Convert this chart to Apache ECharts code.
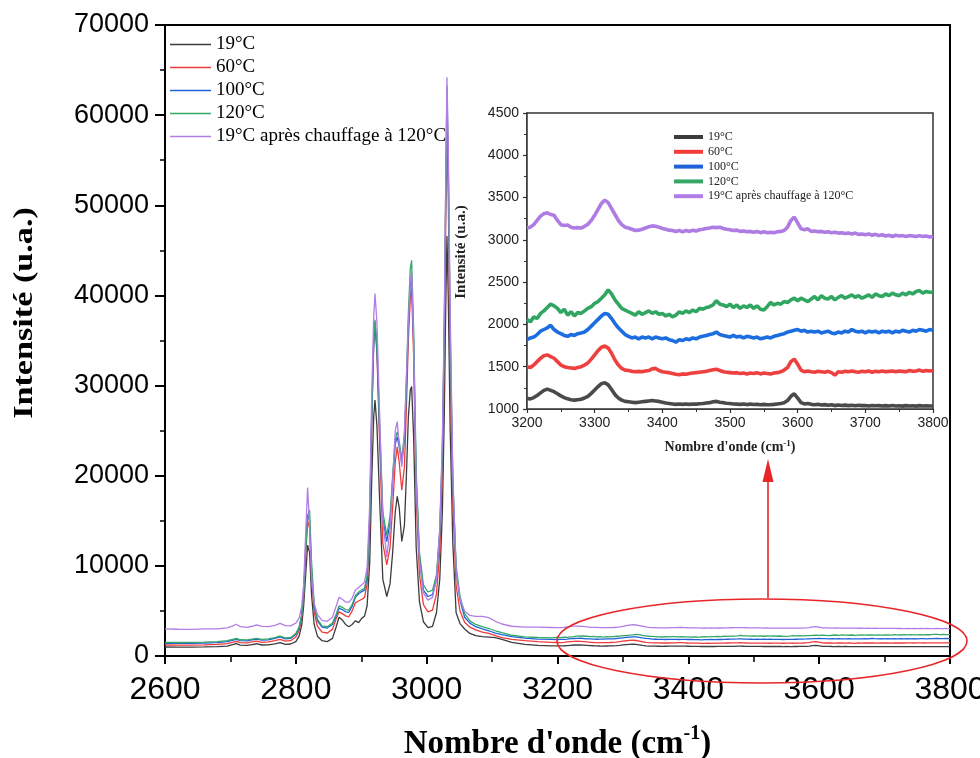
<!DOCTYPE html>
<html>
<head>
<meta charset="utf-8">
<script src="https://cdn.jsdelivr.net/npm/echarts@6/dist/echarts.min.js"></script>
<style>html,body{margin:0;padding:0;background:#fff;}#c{width:980px;height:758px;}</style>
</head>
<body>
<div id="c"></div>
<script>
const seriesNames = ['19°C', '60°C', '100°C', '120°C', '19°C après chauffage à 120°C'];

const mainXTicks = [2600, 2800, 3000, 3200, 3400, 3600, 3800];
const mainYTicks = [0, 10000, 20000, 30000, 40000, 50000, 60000, 70000];
const insetXTicks = [3200, 3300, 3400, 3500, 3600, 3700, 3800];
const insetYTicks = [1000, 1500, 2000, 2500, 3000, 3500, 4000, 4500];

// wavenumbers 2600-3190 (main panel part)
const mainX = [
2600,2620,2640,2660,2680,2695,2703,2709,2715,2725,
2733,2740,2748,2758,2768,2776,2784,2792,2800,2805,
2809,2812,2815,2818,2821,2824,2828,2833,2840,2848,
2856,2862,2866,2871,2876,2881,2886,2891,2896,2901,
2905,2909,2913,2916,2919,2921,2924,2928,2933,2939,
2944,2948,2952,2955,2958,2962,2966,2969,2972,2975,
2977,2980,2984,2989,2995,3002,3009,3015,3020,3024,
3027,3029,3031,3033,3036,3040,3045,3051,3058,3066,
3075,3085,3095,3105,3115,3130,3150,3170,3190];

const k19Main = [
1000,980,990,1010,1040,1100,1250,1380,1200,1170,
1270,1360,1220,1240,1350,1480,1300,1330,1600,2200,
3400,5600,9000,12300,11500,6800,3500,2200,1700,1600,
1950,3300,4300,4000,3500,3250,3500,3900,3700,4200,
4400,5600,10500,19500,26500,28400,25500,17500,8500,6600,
8000,11500,16000,17700,16500,12700,14500,20000,26500,29500,
29900,24500,12000,6000,3800,3150,3300,4800,8500,16000,
27000,38000,46600,40000,25000,12500,4800,3600,3000,2500,
2250,2150,2100,2030,1850,1500,1300,1180,1130];

const r60Main = [
1220,1200,1210,1240,1280,1380,1520,1620,1480,1460,
1560,1640,1520,1560,1700,1850,1650,1700,2100,2800,
4200,6800,11000,15000,14200,8800,4900,3300,2650,2550,
2950,4200,4900,4700,4450,4350,5000,5900,6100,6300,
6500,8000,14500,26000,34500,37000,33500,24000,12500,10100,
12000,16500,21500,23200,21500,18400,21000,27500,35000,39800,
40700,33500,17500,9000,5700,4900,5100,6900,11500,21000,
34000,47000,59000,51000,32000,17000,7800,5000,3750,3200,
2900,2650,2500,2250,2050,1850,1700,1590,1520];

const b100Main = [
1410,1400,1410,1440,1490,1590,1740,1850,1700,1680,
1780,1860,1750,1800,1950,2120,1900,1950,2400,3100,
4500,7200,12000,15700,15000,9500,5500,3900,3200,3100,
3500,4500,5300,5150,4900,4850,5500,6500,6900,7150,
7300,8700,15200,26500,34500,37000,34000,25000,15200,12700,
14800,19500,23500,24300,23200,21400,24000,29500,36500,41200,
42000,35000,19500,10800,7300,6600,6800,8600,13500,22500,
36000,50000,62000,54000,35000,19000,9500,6200,4300,3650,
3250,3000,2800,2550,2380,2150,1980,1880,1840];

const g120Main = [
1520,1500,1510,1550,1600,1700,1850,1960,1800,1780,
1880,1960,1850,1900,2050,2220,2000,2050,2500,3200,
4600,7000,11500,15500,16200,10500,5800,4100,3350,3250,
3650,4700,5550,5400,5150,5100,5700,6700,7100,7350,
7500,8900,15500,27000,35000,37300,34500,26000,16000,13400,
15500,20000,24000,24900,23800,21900,24500,30500,38000,43000,
43900,36500,20500,11500,7900,7100,7300,9000,14000,23000,
37000,51000,63200,55000,36000,19500,10000,6600,4700,3900,
3500,3250,3050,2800,2580,2300,2130,2050,2000];

const p19aMain = [
3000,2970,2960,3000,3020,3120,3320,3520,3250,3180,
3300,3450,3280,3260,3400,3620,3380,3350,3650,4200,
5500,8000,13500,18700,14500,8800,5800,4600,3950,3850,
4300,5600,6500,6300,6000,5950,6400,7300,7600,7900,
8200,9800,17000,29000,37500,40200,37000,27000,15000,11000,
14000,19500,25000,26000,23500,21000,25000,31000,37000,41500,
42600,35000,19000,10500,7000,6200,6500,8500,14000,24000,
38000,52000,64200,57000,38000,20000,9500,6300,5000,4500,
4400,4400,4250,3850,3550,3300,3200,3200,3160];

// wavenumbers 3200-3800 (inset range)
const insetX = [
3200,3205,3210,3215,3220,3225,3230,3235,3240,3245,
3250,3255,3260,3265,3270,3275,3280,3285,3290,3295,
3300,3305,3310,3315,3320,3325,3330,3335,3340,3345,
3350,3355,3360,3365,3370,3375,3380,3385,3390,3395,
3400,3405,3410,3415,3420,3425,3430,3435,3440,3445,
3450,3455,3460,3465,3470,3475,3480,3485,3490,3495,
3500,3505,3510,3515,3520,3525,3530,3535,3540,3545,
3550,3555,3560,3565,3570,3575,3580,3585,3590,3595,
3600,3605,3610,3615,3620,3625,3630,3635,3640,3645,
3650,3655,3660,3665,3670,3675,3680,3685,3690,3695,
3700,3705,3710,3715,3720,3725,3730,3735,3740,3745,
3750,3755,3760,3765,3770,3775,3780,3785,3790,3795,
3800];

const k19Inset = [
1125,1120,1135,1160,1190,1220,1235,1220,1205,1180,
1155,1135,1120,1110,1105,1110,1115,1130,1150,1185,
1225,1265,1300,1310,1285,1230,1170,1130,1105,1090,
1085,1080,1075,1080,1085,1090,1095,1100,1095,1090,
1080,1070,1065,1060,1055,1060,1055,1060,1055,1060,
1058,1062,1065,1070,1075,1085,1090,1080,1075,1068,
1065,1060,1058,1055,1060,1052,1058,1053,1055,1050,
1055,1050,1052,1055,1060,1065,1075,1100,1150,1180,
1130,1075,1060,1065,1055,1050,1055,1048,1052,1045,
1050,1040,1048,1042,1046,1040,1045,1038,1044,1040,
1042,1036,1042,1038,1040,1035,1040,1036,1042,1035,
1038,1034,1040,1036,1038,1034,1040,1036,1038,1035,
1036];

const r60Inset = [
1500,1490,1520,1560,1600,1630,1640,1620,1600,1560,
1520,1500,1490,1485,1480,1490,1500,1520,1545,1590,
1640,1690,1730,1745,1720,1660,1580,1520,1480,1460,
1455,1445,1440,1445,1440,1450,1455,1475,1480,1455,
1440,1435,1430,1420,1410,1405,1415,1410,1420,1425,
1430,1435,1440,1445,1455,1465,1470,1455,1440,1435,
1430,1425,1430,1420,1425,1415,1425,1420,1430,1415,
1425,1420,1415,1425,1430,1440,1460,1490,1560,1590,
1530,1460,1440,1450,1440,1435,1445,1440,1435,1445,
1430,1400,1440,1435,1445,1440,1450,1440,1435,1445,
1440,1450,1435,1445,1440,1450,1440,1445,1450,1440,
1450,1445,1440,1455,1445,1450,1460,1445,1455,1450,
1455];

const b100Inset = [
1820,1840,1850,1880,1920,1940,1960,1990,1940,1910,
1890,1870,1860,1880,1870,1890,1900,1910,1940,1980,
2020,2060,2100,2130,2120,2070,2010,1960,1920,1880,
1860,1840,1850,1830,1850,1840,1850,1830,1850,1840,
1830,1840,1820,1810,1790,1820,1810,1830,1820,1840,
1830,1850,1860,1870,1880,1890,1910,1880,1870,1860,
1850,1870,1850,1860,1840,1860,1850,1840,1850,1830,
1840,1850,1840,1860,1870,1880,1890,1910,1920,1930,
1940,1920,1930,1910,1920,1910,1920,1900,1910,1920,
1900,1890,1910,1900,1920,1910,1940,1920,1910,1920,
1900,1920,1910,1920,1900,1920,1910,1920,1900,1920,
1910,1930,1920,1910,1930,1920,1940,1930,1920,1940,
1930];

const g120Inset = [
2060,2030,2090,2070,2130,2160,2200,2240,2220,2190,
2140,2180,2110,2150,2100,2140,2130,2160,2190,2210,
2250,2270,2310,2350,2410,2360,2290,2240,2190,2170,
2150,2130,2110,2150,2120,2140,2160,2130,2150,2120,
2130,2100,2120,2090,2110,2150,2130,2160,2140,2170,
2150,2190,2180,2200,2210,2230,2280,2240,2230,2210,
2240,2200,2230,2190,2220,2200,2230,2190,2220,2180,
2170,2210,2260,2230,2250,2240,2270,2260,2290,2310,
2280,2310,2290,2270,2300,2330,2290,2340,2310,2300,
2330,2290,2320,2340,2310,2330,2350,2320,2340,2310,
2330,2350,2320,2360,2340,2330,2360,2340,2370,2350,
2340,2370,2350,2380,2360,2390,2400,2370,2390,2380,
2380];

const p19aInset = [
3140,3150,3180,3230,3280,3310,3320,3300,3290,3230,
3180,3170,3175,3150,3140,3145,3140,3160,3185,3230,
3290,3360,3430,3470,3440,3370,3300,3230,3180,3150,
3140,3125,3110,3115,3125,3140,3155,3165,3160,3150,
3135,3125,3115,3110,3100,3110,3095,3110,3100,3115,
3105,3120,3125,3135,3140,3150,3145,3150,3135,3125,
3120,3110,3115,3100,3105,3095,3100,3090,3100,3085,
3095,3085,3090,3085,3095,3100,3110,3150,3230,3270,
3200,3130,3120,3130,3100,3105,3095,3100,3090,3095,
3085,3090,3080,3085,3075,3080,3070,3080,3065,3070,
3060,3070,3055,3065,3050,3060,3045,3055,3040,3055,
3045,3050,3040,3050,3045,3040,3050,3040,3045,3035,
3040];

const mainColors = ['#3c3c3c', '#f23b3b', '#2262d8', '#35a868', '#b07ee6'];
const insetColors = ['#4a4a4a', '#ef4040', '#1c6ddf', '#31a661', '#ae7ce2'];

const mainSets = [k19Main, r60Main, b100Main, g120Main, p19aMain];
const insetSets = [k19Inset, r60Inset, b100Inset, g120Inset, p19aInset];

function zip(xs, ys) { return xs.map((x, i) => [x, ys[i]]); }

const series = [];
seriesNames.forEach((name, i) => {
  series.push({
    name: name, type: 'line', xAxisIndex: 0, yAxisIndex: 0,
    data: zip(mainX.concat(insetX), mainSets[i].concat(insetSets[i])),
    symbol: 'none', showSymbol: false, silent: true, animation: false,
    lineStyle: { color: mainColors[i], width: 1.3 }, itemStyle: { color: mainColors[i] },
    z: 2 + i
  });
});
seriesNames.forEach((name, i) => {
  series.push({
    name: name, type: 'line', xAxisIndex: 1, yAxisIndex: 1,
    data: zip(insetX, insetSets[i]),
    symbol: 'none', showSymbol: false, silent: true, animation: false,
    lineStyle: { color: insetColors[i], width: 3.6 }, itemStyle: { color: insetColors[i] },
    z: 20 + i
  });
});

const plain = v => String(v);
const black = '#000';

const option = {
  backgroundColor: '#fff',
  animation: false,
  grid: [
    { left: 165, right: 30, top: 25, bottom: 102, show: true, borderColor: black, borderWidth: 2, backgroundColor: 'rgba(0,0,0,0)', containLabel: false, outerBoundsMode: 'none' },
    { left: 527, right: 47, top: 113, bottom: 349, show: true, borderColor: '#333', borderWidth: 1.5, backgroundColor: '#fff', z: 15, containLabel: false, outerBoundsMode: 'none' }
  ],
  xAxis: [
    {
      type: 'value', gridIndex: 0,
      min: mainXTicks[0], max: mainXTicks[mainXTicks.length - 1], interval: mainXTicks[1] - mainXTicks[0],
      splitLine: { show: false },
      axisLine: { onZero: false, lineStyle: { color: black, width: 2 } },
      axisTick: { length: 8, lineStyle: { color: black, width: 2 } },
      minorTick: { show: true, splitNumber: 2, length: 6, lineStyle: { color: black, width: 1.5 } },
      axisLabel: { fontFamily: 'Liberation Sans', fontSize: 32, color: black, margin: 18, formatter: plain },
      name: "{a|Nombre d'onde (cm}{s|-1}{a|)}",
      nameLocation: 'middle', nameGap: 68,
      nameTextStyle: {
        rich: {
          a: { fontFamily: 'Liberation Serif', fontWeight: 'bold', fontSize: 33, color: black, lineHeight: 40 },
          s: { fontFamily: 'Liberation Serif', fontWeight: 'bold', fontSize: 20, color: black, verticalAlign: 'top', lineHeight: 40 }
        }
      }
    },
    {
      type: 'value', gridIndex: 1,
      min: insetXTicks[0], max: insetXTicks[insetXTicks.length - 1], interval: insetXTicks[1] - insetXTicks[0],
      splitLine: { show: false },
      axisLine: { onZero: false, lineStyle: { color: '#333', width: 1.5 } },
      axisTick: { length: 4, lineStyle: { color: '#333', width: 1.2 } },
      minorTick: { show: true, splitNumber: 2, length: 3, lineStyle: { color: '#333', width: 1 } },
      axisLabel: { fontFamily: 'Liberation Sans', fontSize: 14, color: '#222', margin: 7, formatter: plain },
      name: "{a|Nombre d'onde (cm}{s|-1}{a|)}",
      nameLocation: 'middle', nameGap: 30,
      nameTextStyle: {
        rich: {
          a: { fontFamily: 'Liberation Serif', fontWeight: 'bold', fontSize: 14, color: '#222', lineHeight: 17 },
          s: { fontFamily: 'Liberation Serif', fontWeight: 'bold', fontSize: 9, color: '#222', verticalAlign: 'top', lineHeight: 17 }
        }
      }
    }
  ],
  yAxis: [
    {
      type: 'value', gridIndex: 0,
      min: mainYTicks[0], max: mainYTicks[mainYTicks.length - 1], interval: mainYTicks[1] - mainYTicks[0],
      splitLine: { show: false },
      axisLine: { onZero: false, lineStyle: { color: black, width: 2 } },
      axisTick: { length: 10, lineStyle: { color: black, width: 2 } },
      minorTick: { show: true, splitNumber: 2, length: 5, lineStyle: { color: black, width: 1.5 } },
      axisLabel: { fontFamily: 'Liberation Sans', fontSize: 27, color: black, margin: 16, formatter: plain }
    },
    {
      type: 'value', gridIndex: 1,
      min: insetYTicks[0], max: insetYTicks[insetYTicks.length - 1], interval: insetYTicks[1] - insetYTicks[0],
      splitLine: { show: false },
      axisLine: { onZero: false, lineStyle: { color: '#333', width: 1.5 } },
      axisTick: { length: 4, lineStyle: { color: '#333', width: 1.2 } },
      minorTick: { show: true, splitNumber: 2, length: 3, lineStyle: { color: '#333', width: 1 } },
      axisLabel: { fontFamily: 'Liberation Sans', fontSize: 14, color: '#222', margin: 8, formatter: plain }
    }
  ],
  legend: [
    {
      data: seriesNames, orient: 'vertical', left: 170, top: 35, padding: 0,
      itemWidth: 41, itemHeight: 19, itemGap: 4, selectedMode: false,
      icon: 'path://M0,0L41,0L41,1.6L0,1.6Z',
      textStyle: { fontFamily: 'Liberation Serif', fontSize: 19, color: black }
    },
    {
      data: seriesNames, orient: 'vertical', left: 674, top: 131, padding: 0,
      itemWidth: 29, itemHeight: 12, itemGap: 2.8, selectedMode: false, z: 30,
      icon: 'path://M0,0L29,0L29,4L0,4Z',
      textStyle: { fontFamily: 'Liberation Serif', fontSize: 12, color: '#222' }
    }
  ],
  graphic: [
    {
      type: 'text', x: 25, y: 313, rotation: Math.PI / 2, scaleX: 1.22,
      style: { text: 'Intensité (u.a.)', font: 'bold 28px "Liberation Serif"', fill: black, textAlign: 'center', textVerticalAlign: 'middle' }
    },
    {
      type: 'text', x: 461, y: 252, rotation: Math.PI / 2, z: 40, scaleX: 1.08,
      style: { text: 'Intensité (u.a.)', font: 'bold 14px "Liberation Serif"', fill: '#222', textAlign: 'center', textVerticalAlign: 'middle' }
    },
    {
      type: 'ellipse', z: 50, shape: { cx: 762, cy: 641, rx: 205, ry: 42 },
      style: { fill: 'none', stroke: '#e8262a', lineWidth: 1.6 }
    },
    {
      type: 'line', z: 50, shape: { x1: 768, y1: 598, x2: 768, y2: 480 },
      style: { stroke: '#e8262a', lineWidth: 1.6 }
    },
    {
      type: 'polygon', z: 50, shape: { points: [[768, 459], [762.5, 482], [773.5, 482]] },
      style: { fill: '#e8262a' }
    }
  ],
  series: series
};

const chart = echarts.init(document.getElementById('c'), null, { renderer: 'canvas' });
chart.setOption(option);
</script>
</body>
</html>
